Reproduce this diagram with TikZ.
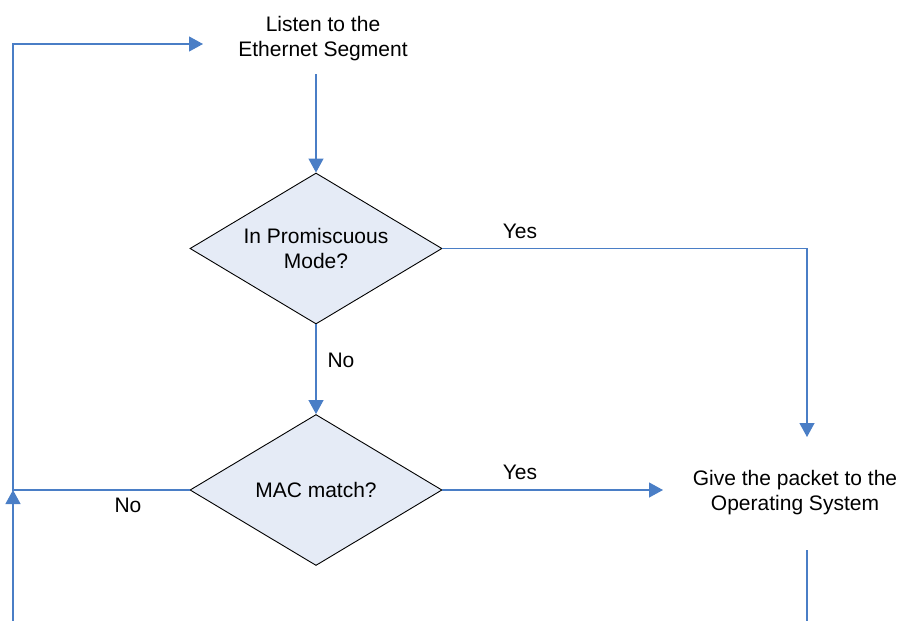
\documentclass[tikz,border=0pt]{standalone}
\usepackage{fontspec}
\setmainfont{Liberation Sans}
\usetikzlibrary{shapes.geometric,arrows.meta}
\definecolor{flowblue}{HTML}{4A7EC6}
\definecolor{decfill}{HTML}{E5EBF6}
\tikzset{
  lbl/.style={inner sep=0pt, font=\fontsize{21}{25}\selectfont, align=center},
  decision/.style={diamond, aspect=1.67, draw=black, line width=0.9pt, fill=decfill,
    minimum width=252pt, minimum height=151pt, inner sep=0pt,
    font=\fontsize{21}{25}\selectfont, align=center},
  flow/.style={draw=flowblue, line width=1.2pt,
    -{Triangle[length=14pt,width=15pt]}},
  wire/.style={draw=flowblue, line width=1.2pt}
}
\begin{document}
\begin{tikzpicture}[x=1pt,y=-1pt]
  \useasboundingbox (0,0) rectangle (900,621);
  % steps
  \node[lbl] (listen) at (323,38.5) {Listen to the\\Ethernet Segment};
  \node[decision] (prom) at (316,248.5) {In Promiscuous\\Mode?};
  \node[decision] (mac) at (316,490) {MAC match?};
  \node[lbl] (os) at (795,493) {Give the packet to the\\Operating System};
  % free ends of the connectors
  \coordinate (listenOut) at (316,74);
  \coordinate (listenIn) at (203,44);
  \coordinate (loopTurn) at (13,44);
  \coordinate (loopBottom) at (13,621);
  \coordinate (loopJoin) at (13,490);
  \coordinate (osTop) at (807,437);
  \coordinate (osIn) at (663,490);
  \coordinate (osOut) at (807,550);
  \coordinate (osBottom) at (807,621);
  % connectors
  \draw[flow] (listenOut) -- (prom.north);
  \draw[flow] (prom.south) -- (mac.north);
  \draw[flow] (prom.east) -| (osTop);
  \draw[flow] (mac.east) -- (osIn);
  \draw[flow] (mac.west) -| (loopTurn) -- (listenIn);
  \draw[flow] (loopBottom) -- (loopJoin);
  \draw[wire] (osOut) -- (osBottom);
  % branch labels
  \node[lbl] (yes1) at (520,231) {Yes};
  \node[lbl] (no1) at (341,360) {No};
  \node[lbl] (yes2) at (520,472) {Yes};
  \node[lbl] (no2) at (128,505) {No};
\end{tikzpicture}
\end{document}
